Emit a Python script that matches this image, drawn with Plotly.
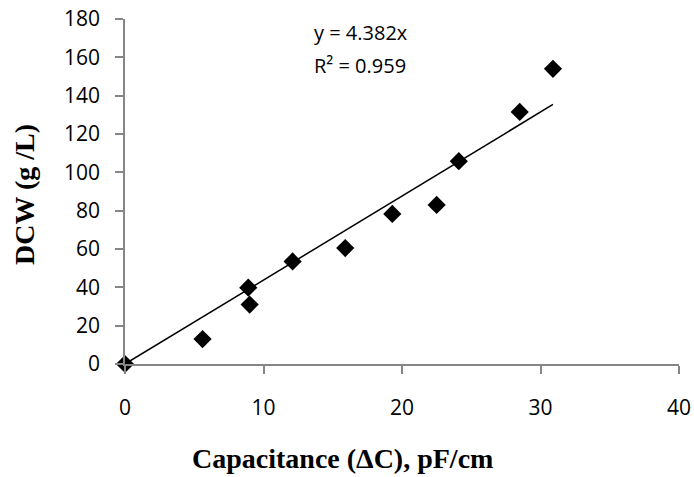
import plotly.graph_objects as go

capacitance = [0, 5.6, 8.9, 9.0, 12.1, 15.9, 19.3, 22.5, 24.1, 28.5, 30.9]
dcw = [0, 13.0, 39.8, 31.0, 53.5, 60.5, 78.3, 83.0, 105.8, 131.5, 154.0]
slope = 4.382
trend_x = [0, max(capacitance)]
trend_y = [slope * v for v in trend_x]
x_ticks = [0, 10, 20, 30, 40]
y_ticks = [0, 20, 40, 60, 80, 100, 120, 140, 160, 180]

fig = go.Figure()
fig.add_trace(go.Scatter(x=trend_x, y=trend_y, mode="lines",
                         line=dict(color="black", width=1.5), showlegend=False))
fig.add_trace(go.Scatter(x=capacitance, y=dcw, mode="markers",
                         marker=dict(symbol="diamond", size=14, color="black"),
                         cliponaxis=False, showlegend=False))

axis_common = dict(showgrid=False, zeroline=False, showline=True, linecolor="#868686",
                   linewidth=1.5, ticks="outside", tickcolor="#868686", ticklen=8, tickwidth=1.5,
                   automargin=False, ticklabeloverflow="allow",
                   tickfont=dict(family="Open Sans", size=21, color="black"))
fig.update_xaxes(range=[0, 40], tickvals=x_ticks, ticktext=[str(v) for v in x_ticks],
                 ticklabelstandoff=16, **axis_common)
fig.update_yaxes(range=[0, 180], tickvals=y_ticks, ticktext=[str(v) for v in y_ticks],
                 ticklabelstandoff=11, **axis_common)

fig.update_layout(
    width=694, height=477,
    margin=dict(l=125, r=15, t=19, b=113),
    paper_bgcolor="white", plot_bgcolor="white",
    annotations=[
        dict(x=0.392, y=-0.275, xref="paper", yref="paper", xanchor="center", yanchor="middle",
             text="<b>Capacitance (ΔC), pF/cm</b>", showarrow=False,
             font=dict(family="Liberation Serif", size=28, color="black")),
        dict(x=-0.1805, y=0.49, xref="paper", yref="paper", xanchor="center", yanchor="middle",
             text="<b>DCW (g /L)</b>", textangle=-90, showarrow=False,
             font=dict(family="Liberation Serif", size=28, color="black")),
        dict(x=13.5, y=172.7, xref="x", yref="y", xanchor="left", yanchor="middle",
             text="y = 4.382x", showarrow=False,
             font=dict(family="Open Sans", size=20, color="black")),
        dict(x=13.5, y=156, xref="x", yref="y", xanchor="left", yanchor="middle",
             text="R² = 0.959", showarrow=False,
             font=dict(family="Open Sans", size=20, color="black")),
    ],
)
fig.write_html("out.html", config={"displayModeBar": False},
               post_script="document.body.style.margin='0';document.body.style.overflow='hidden';")
